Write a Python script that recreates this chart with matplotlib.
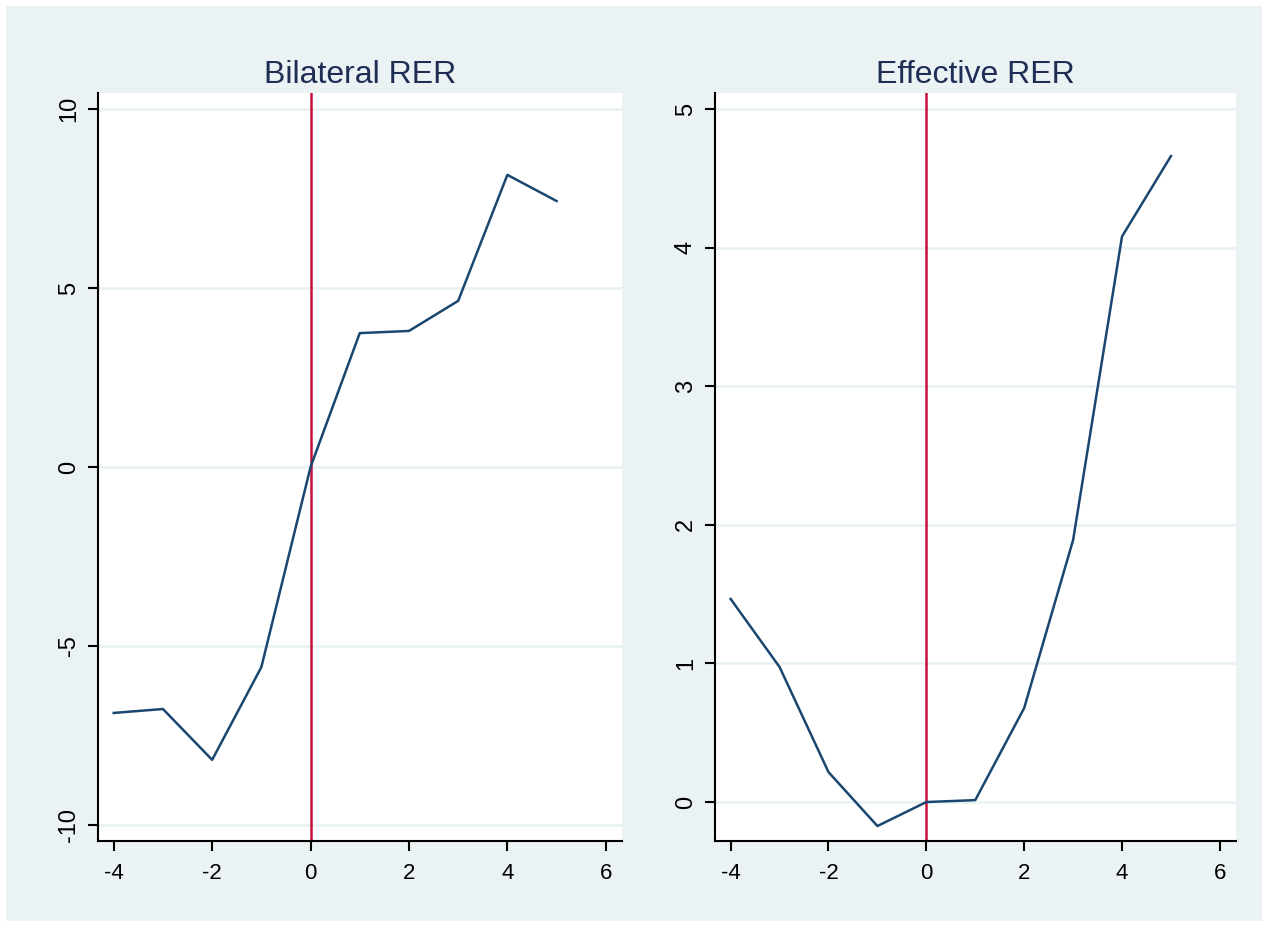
import matplotlib
matplotlib.use('Agg')
import matplotlib.pyplot as plt
from matplotlib.patches import Rectangle

plt.rcParams['font.family'] = ['Liberation Sans', 'DejaVu Sans']

years = [-4, -3, -2, -1, 0, 1, 2, 3, 4, 5]
bilateral = [-6.87, -6.76, -8.18, -5.59, 0.0, 3.74, 3.80, 4.64, 8.16, 7.43]
effective = [1.465, 0.974, 0.216, -0.173, 0.0, 0.014, 0.678, 1.89, 4.08, 4.66]

x_ticks = [-4, -2, 0, 2, 4, 6]
bil_ticks = [-10, -5, 0, 5, 10]
eff_ticks = [0, 1, 2, 3, 4, 5]

BG = '#EAF2F3'
NAVY = '#1A476F'
RED = '#C8103A'
TITLE = '#1F2D55'

W, H = 1268, 927
fig = plt.figure(figsize=(W / 100, H / 100), dpi=100)
fig.patch.set_facecolor('white')
fig.patches.append(Rectangle((6 / W, 6 / H), 1 - 12 / W, 1 - 12 / H,
                             transform=fig.transFigure, facecolor=BG,
                             edgecolor='none', zorder=-10))


def panel(rect, y, yticks, ylim, title):
    ax = fig.add_axes(rect)
    ax.set_facecolor('white')
    for t in yticks:
        ax.axhline(t, color=BG, lw=2, zorder=1)
    ax.axvline(0, color=RED, lw=1.8, zorder=2)
    ax.plot(years, y, color=NAVY, lw=1.8, zorder=3)
    ax.set_xlim(-4.32, 6.33)
    ax.set_ylim(*ylim)
    ax.set_xticks(x_ticks)
    ax.set_yticks(yticks)
    ax.set_xticklabels([str(t) for t in x_ticks])
    ax.set_yticklabels([str(t) for t in yticks], rotation=90, va='center')
    ax.tick_params(axis='both', length=7, width=1.5, color='black')
    ax.tick_params(axis='x', labelsize=16, pad=9)
    ax.tick_params(axis='y', labelsize=17, pad=6)
    for s in ['top', 'right']:
        ax.spines[s].set_visible(False)
    for s in ['left', 'bottom']:
        ax.spines[s].set_linewidth(1.5)
    ax.set_title(title, fontsize=23, color=TITLE, pad=7)
    return ax


panel([98 / W, 1 - 841 / H, 524 / W, 748 / H], bilateral, bil_ticks,
      (-10.447, 10.447), 'Bilateral RER')
panel([715 / W, 1 - 841 / H, 521 / W, 748 / H], effective, eff_ticks,
      (-0.281, 5.115), 'Effective RER')

fig.savefig('out.png', dpi=100, facecolor='white')
